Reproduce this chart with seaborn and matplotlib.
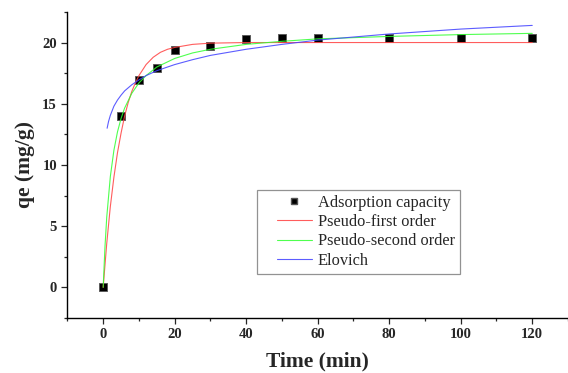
import pandas as pd
import matplotlib
matplotlib.use("Agg")
import matplotlib.pyplot as plt
from matplotlib.lines import Line2D
from matplotlib.legend_handler import HandlerLine2D
from matplotlib.ticker import MultipleLocator
import seaborn as sns

# experimental points
t_exp = [0, 5, 10, 15, 20, 30, 40, 50, 60, 80, 100, 120]
q_exp = [0.05, 14.0, 16.95, 17.95, 19.4, 19.75, 20.3, 20.35, 20.35, 20.35, 20.35, 20.35]

# fitted curves
t_pfo = [0, 1, 2, 3, 4, 5, 6, 7, 8, 9, 10, 12, 14, 16, 18, 20, 25, 30, 40, 60, 80, 100, 120]
q_pfo = [0, 3.6, 6.6, 9.0, 11.0, 12.6, 14.0, 15.1, 16.0, 16.7, 17.3, 18.2, 18.8, 19.2,
         19.45, 19.6, 19.85, 19.95, 20.0, 20.0, 20.0, 20.0, 20.0]

t_pso = [0, 0.5, 1, 2, 3, 4, 5, 6, 8, 10, 12, 15, 20, 25, 30, 40, 50, 60, 80, 100, 120]
q_pso = [0, 3.3, 5.75, 9.05, 11.2, 12.7, 13.8, 14.65, 15.85, 16.7, 17.3, 18.0, 18.7,
         19.15, 19.45, 19.85, 20.1, 20.3, 20.5, 20.65, 20.75]

t_elo = [1.1, 1.5, 2, 3, 4, 5, 6, 8, 10, 12, 15, 20, 25, 30, 40, 50, 60, 80, 100, 120]
q_elo = [13.0, 13.55, 14.05, 14.8, 15.3, 15.7, 16.05, 16.55, 16.95, 17.3, 17.7, 18.2,
         18.6, 18.95, 19.45, 19.85, 20.2, 20.7, 21.1, 21.4]

models = ["Pseudo-first order", "Pseudo-second order", "Elovich"]
colors = {"Pseudo-first order": "#ff4040",
          "Pseudo-second order": "#30ff30",
          "Elovich": "#4040ff"}

sns.set_style("ticks")
plt.rcParams["font.family"] = ["Liberation Serif", "DejaVu Serif"]

exp = pd.DataFrame({"t": t_exp, "q": q_exp})
fits = pd.concat([
    pd.DataFrame({"t": t_pfo, "q": q_pfo, "model": models[0]}),
    pd.DataFrame({"t": t_pso, "q": q_pso, "model": models[1]}),
    pd.DataFrame({"t": t_elo, "q": q_elo, "model": models[2]}),
])

fig = plt.figure(figsize=(5.68, 3.73), dpi=100)
ax = fig.add_axes([0.1187, 0.1475, 0.8813, 0.8205])

sns.scatterplot(data=exp, x="t", y="q", marker="s", s=38, color="black",
                edgecolor="#555555", linewidth=0.6, ax=ax, zorder=2, legend=False)
sns.lineplot(data=fits, x="t", y="q", hue="model", palette=colors, estimator=None,
             sort=False, linewidth=0.8, alpha=0.85, ax=ax, zorder=3, legend=False)

ax.set_xlim(-10, 130)
ax.set_ylim(-2.5, 22.5)
ax.xaxis.set_major_locator(MultipleLocator(20))
ax.xaxis.set_minor_locator(MultipleLocator(10))
ax.yaxis.set_major_locator(MultipleLocator(5))
ax.yaxis.set_minor_locator(MultipleLocator(2.5))
ax.tick_params(which="major", direction="out", length=4.5, width=0.9, labelsize=10.5, pad=3)
ax.tick_params(which="minor", direction="out", length=2.5, width=0.9)
for lab in ax.get_xticklabels() + ax.get_yticklabels():
    lab.set_fontweight("bold")

for side in ["top", "right"]:
    ax.spines[side].set_visible(False)
for side in ["left", "bottom"]:
    ax.spines[side].set_linewidth(1.0)
    ax.spines[side].set_color("black")

ax.set_xlabel("Time (min)", fontsize=15.5, fontweight="bold", labelpad=7)
ax.set_ylabel("qe (mg/g)", fontsize=15.5, fontweight="bold", labelpad=5)

handles = [Line2D([], [], marker="s", linestyle="none", color="black",
                  markersize=5, markeredgecolor="#555555")]
handles += [Line2D([], [], color=colors[m], linewidth=0.8, alpha=0.85) for m in models]
labels = ["Adsorption capacity"] + models
leg = ax.legend(handles, labels, loc="upper left",
                bbox_to_anchor=(257 / 568, 1 - 190 / 373), bbox_transform=fig.transFigure,
                fontsize=11.8, frameon=True, fancybox=False, borderaxespad=0,
                borderpad=0.3, labelspacing=0.2, handlelength=3.05, handletextpad=0.37,
                handler_map={Line2D: HandlerLine2D(xpad=0.91)})
leg.get_frame().set_edgecolor("#777777")
leg.get_frame().set_linewidth(0.9)

fig.savefig("out.png", dpi=100)
